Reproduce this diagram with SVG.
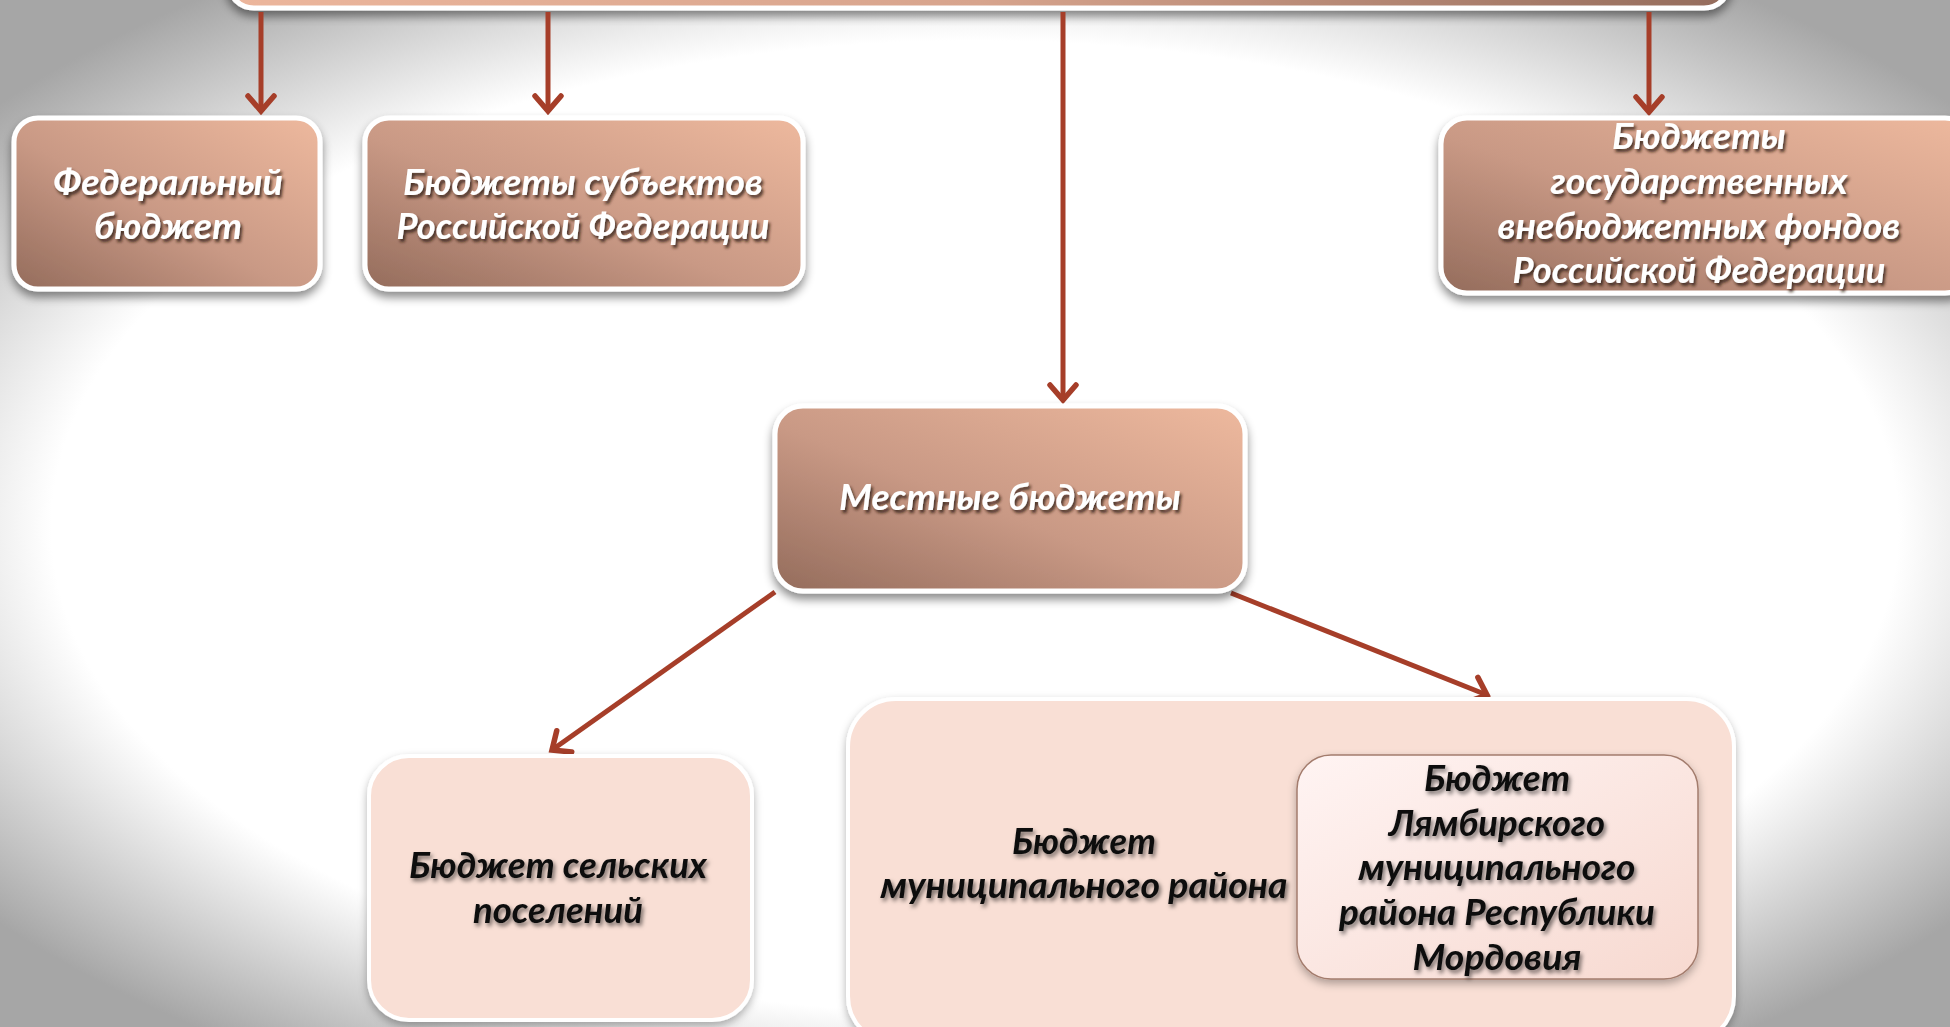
<svg xmlns="http://www.w3.org/2000/svg" width="1950" height="1027" viewBox="0 0 1950 1027">
  <defs>
    <radialGradient id="bg" cx="0.5" cy="0.5" fx="0.5" fy="0.55" r="0.64">
      <stop offset="0" stop-color="#ffffff"/>
      <stop offset="0.74" stop-color="#ffffff"/>
      <stop offset="1" stop-color="#a6a6a6"/>
    </radialGradient>
    <linearGradient id="brown" x1="1" y1="0" x2="0" y2="1">
      <stop offset="0" stop-color="#eeb99e"/>
      <stop offset="0.55" stop-color="#c99985"/>
      <stop offset="1" stop-color="#946c5c"/>
    </linearGradient>
    <linearGradient id="brownTop" x1="0" y1="0" x2="1" y2="0">
      <stop offset="0" stop-color="#ecb69c"/>
      <stop offset="0.5" stop-color="#d7a48d"/>
      <stop offset="1" stop-color="#946c5c"/>
    </linearGradient>
    <linearGradient id="inner" x1="0" y1="0" x2="1" y2="1">
      <stop offset="0" stop-color="#fff4f3"/>
      <stop offset="1" stop-color="#f7d9d0"/>
    </linearGradient>
    <filter id="boxShadow" x="-10%" y="-10%" width="120%" height="130%">
      <feDropShadow dx="0" dy="6" stdDeviation="5" flood-color="#000" flood-opacity="0.45"/>
    </filter>
    <filter id="lightShadow" x="-10%" y="-10%" width="120%" height="130%">
      <feDropShadow dx="0" dy="4" stdDeviation="4" flood-color="#000" flood-opacity="0.3"/>
    </filter>
    <filter id="wShadow" x="-10%" y="-30%" width="120%" height="160%">
      <feDropShadow dx="2" dy="3" stdDeviation="1.8" flood-color="#2a1208" flood-opacity="0.8"/>
    </filter>
    <filter id="bShadow" x="-10%" y="-30%" width="120%" height="160%">
      <feDropShadow dx="2" dy="3" stdDeviation="2" flood-color="#000" flood-opacity="0.55"/>
    </filter>
    <marker id="arr" markerUnits="userSpaceOnUse" markerWidth="40" markerHeight="40" refX="0" refY="0" viewBox="-20 -20 40 40" orient="auto" overflow="visible">
      <path d="M -15 -13 L 0 0 L -15 13" fill="none" stroke="#a63e29" stroke-width="5.5" stroke-linecap="round" stroke-linejoin="miter"/>
    </marker>
    <style>
      .bx { fill: url(#brown); stroke: #ffffff; stroke-width: 5; filter: url(#boxShadow); }
      .lt { fill: #f9dfd5; stroke: #ffffff; stroke-width: 4; filter: url(#lightShadow); }
      .wt { font-family: Lato, "Open Sans", "Liberation Sans", sans-serif; font-weight: bold; font-style: italic; font-size: 36px; fill: #ffffff; text-anchor: middle; filter: url(#wShadow); }
      .bt { font-family: Lato, "Open Sans", "Liberation Sans", sans-serif; font-weight: bold; font-style: italic; font-size: 36px; fill: #111111; text-anchor: middle; filter: url(#bShadow); }
      .ar { fill: none; stroke: #a63e29; stroke-width: 5; marker-end: url(#arr); }
    </style>
  </defs>

  <rect x="0" y="0" width="1950" height="1027" fill="url(#bg)"/>

  <g id="node-top">
    <rect x="228" y="-80" width="1502" height="88" rx="26" fill="url(#brownTop)" stroke="#ffffff" stroke-width="5" filter="url(#boxShadow)"/>
  </g>

  <g id="connectors">
    <line class="ar" x1="261" y1="12" x2="261" y2="111"/>
    <line class="ar" x1="548" y1="12" x2="548" y2="111"/>
    <line class="ar" x1="1063" y1="12" x2="1063" y2="400"/>
    <line class="ar" x1="1649" y1="12" x2="1649" y2="112"/>
    <line class="ar" x1="775" y1="592" x2="552" y2="750"/>
    <line class="ar" x1="1231" y1="593" x2="1487" y2="695"/>
  </g>

  <g id="node-federal">
    <rect class="bx" x="14" y="118" width="306" height="171" rx="24"/>
    <text class="wt" x="168" y="195" textLength="230" lengthAdjust="spacingAndGlyphs">Федеральный</text>
    <text class="wt" x="168" y="239" textLength="148" lengthAdjust="spacingAndGlyphs">бюджет</text>
  </g>

  <g id="node-subjects">
    <rect class="bx" x="365" y="118" width="438" height="171" rx="24"/>
    <text class="wt" x="583" y="195" textLength="360" lengthAdjust="spacingAndGlyphs">Бюджеты субъектов</text>
    <text class="wt" x="583" y="239" textLength="373" lengthAdjust="spacingAndGlyphs">Российской Федерации</text>
  </g>

  <g id="node-funds">
    <rect class="bx" x="1441" y="118" width="530" height="175" rx="26"/>
    <text class="wt" x="1699" y="149" textLength="174" lengthAdjust="spacingAndGlyphs">Бюджеты</text>
    <text class="wt" x="1699" y="194" textLength="297" lengthAdjust="spacingAndGlyphs">государственных</text>
    <text class="wt" x="1699" y="239" textLength="403" lengthAdjust="spacingAndGlyphs">внебюджетных фондов</text>
    <text class="wt" x="1699" y="283" textLength="373" lengthAdjust="spacingAndGlyphs">Российской Федерации</text>
  </g>

  <g id="node-local">
    <rect class="bx" x="775" y="406" width="470" height="185" rx="28"/>
    <text class="wt" x="1010" y="510" textLength="342" lengthAdjust="spacingAndGlyphs">Местные бюджеты</text>
  </g>

  <g id="node-rural">
    <rect class="lt" x="369" y="756" width="383" height="264" rx="40"/>
    <text class="bt" x="558" y="878" textLength="298" lengthAdjust="spacingAndGlyphs">Бюджет сельских</text>
    <text class="bt" x="558" y="923" textLength="170" lengthAdjust="spacingAndGlyphs">поселений</text>
  </g>

  <g id="node-municipal">
    <rect class="lt" x="848" y="699" width="886" height="345" rx="48"/>
    <text class="bt" x="1084" y="854" textLength="144" lengthAdjust="spacingAndGlyphs">Бюджет</text>
    <text class="bt" x="1084" y="898" textLength="407" lengthAdjust="spacingAndGlyphs">муниципального района</text>
  </g>

  <g id="node-lyambir">
    <rect x="1297" y="755" width="401" height="224" rx="34" fill="url(#inner)" stroke="#a37c6d" stroke-width="1.5" filter="url(#lightShadow)"/>
    <text class="bt" x="1497" y="791" textLength="146" lengthAdjust="spacingAndGlyphs">Бюджет</text>
    <text class="bt" x="1497" y="836" textLength="216" lengthAdjust="spacingAndGlyphs">Лямбирского</text>
    <text class="bt" x="1497" y="880" textLength="277" lengthAdjust="spacingAndGlyphs">муниципального</text>
    <text class="bt" x="1497" y="925" textLength="316" lengthAdjust="spacingAndGlyphs">района Республики</text>
    <text class="bt" x="1497" y="970" textLength="169" lengthAdjust="spacingAndGlyphs">Мордовия</text>
  </g>
</svg>
